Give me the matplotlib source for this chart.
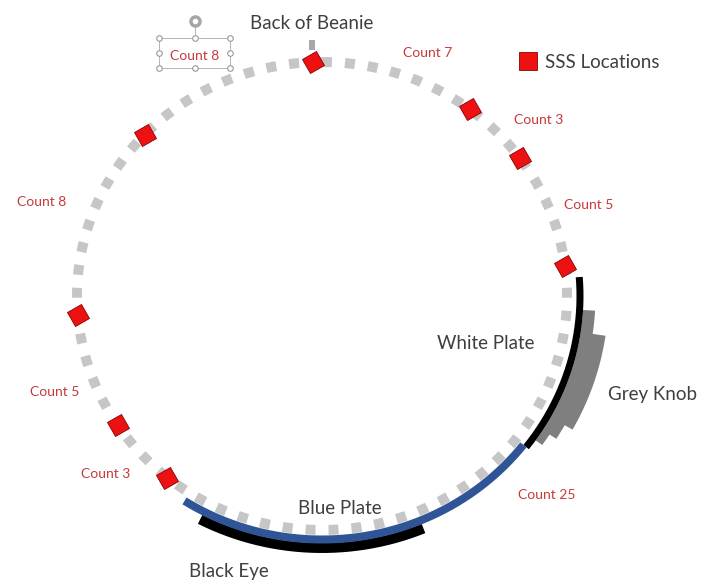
import numpy as np
import matplotlib.pyplot as plt
from matplotlib.markers import MarkerStyle
from matplotlib.transforms import Affine2D
from matplotlib.patches import Rectangle

plt.rcParams['font.family'] = ['Lato', 'DejaVu Sans']

# --- data -------------------------------------------------------------
# SSS locations around the beanie ring (angle in degrees, 0 = right, ccw)
sss_angles = [92, 52.9, 36.2, 7.4, 136.4, 184.6, 213.5, 230.9]
counts = [8, 7, 3, 5, 8, 5, 3, 25]
count_texts = [f'Count {c}' for c in counts]

# plates / parts as angle ranges on the ring
blue_plate = (237.3, 322.3)
white_plate = (-37.7, 4.4)
black_eye = (242.4, 292.7)
# grey knob steps: (start angle, end angle, thickness px)
knob_a0 = [-3.2, -8.3, -29.0, -32.4]
knob_a1 = [-8.3, -29.0, -32.4, -35.2]
knob_w = [12, 25, 16, 8]

part_names = ['Back of Beanie', 'White Plate', 'Grey Knob', 'Blue Plate', 'Black Eye']

# --- layout ------------------------------------------------------------
W, H = 711, 582
cx, cy, rx, ry = 322, 296, 245, 234
RED = '#ee1111'
LAB_RED = '#c83a3a'
DARK = '#3f3f3f'
PX = 0.72  # points per pixel at 100 dpi

count_xy = [(195, 60), (428, 57), (539, 124), (589, 209),
            (42, 206), (55, 396), (106, 478), (547, 499)]
part_xy = [(312, 29), (486, 349), (652, 400), (340, 514), (229, 577)]


def ring(t0, t1, off=0, n=300):
    t = np.radians(np.linspace(t0, t1, n))
    return cx + (rx + off) * np.cos(t), cy - (ry + off) * np.sin(t)


fig = plt.figure(figsize=(W / 100, H / 100), dpi=100)
ax = fig.add_axes([0, 0, 1, 1])
ax.set_xlim(0, W)
ax.set_ylim(H, 0)
ax.axis('off')

# dashed ring of grey squares
x, y = ring(90, 450, n=1200)
ax.plot(x, y, color='#c6c6c6', lw=10 * PX, dashes=(1.0, 1.3),
        dash_capstyle='butt', zorder=1)

# blue plate
x, y = ring(*blue_plate, off=9.5)
ax.plot(x, y, color='#2f5597', lw=8 * PX, solid_capstyle='butt', zorder=2.2)

# white plate (black arc)
x, y = ring(*white_plate, off=13)
ax.plot(x, y, color='black', lw=7 * PX, solid_capstyle='butt', zorder=2)

# black eye
x, y = ring(*black_eye, off=18)
ax.plot(x, y, color='black', lw=10 * PX, solid_capstyle='butt', zorder=2)

# grey knob (stepped)
ox, oy = [], []
for a0, a1, w in zip(knob_a0, knob_a1, knob_w):
    sx, sy = ring(a0, a1, off=16.5 + w, n=60)
    ox += list(sx)
    oy += list(sy)
ix, iy = ring(knob_a1[-1], knob_a0[0], off=16.5, n=200)
ax.fill(ox + list(ix), oy + list(iy), color='#7f7f7f', lw=0, zorder=1.5)

# SSS markers
for a in sss_angles:
    t = np.radians(a)
    m = MarkerStyle('s', transform=Affine2D().rotate_deg(30))
    ax.plot(cx + rx * np.cos(t), cy - ry * np.sin(t), marker=m, ms=15.5 * PX,
            color=RED, mec='#8b0000', mew=0.6, zorder=5)

# small pointer above back-of-beanie marker
ax.plot([312, 312], [40, 50], color='#a8a8a8', lw=6 * PX, solid_capstyle='butt', zorder=1)

# labels
for txt, (lx, ly) in zip(count_texts, count_xy):
    ax.text(lx, ly, txt, color=LAB_RED, fontsize=10, ha='center', va='baseline')
for txt, (lx, ly) in zip(part_names, part_xy):
    ax.text(lx, ly, txt, color=DARK, fontsize=13.5, ha='center', va='baseline')

# legend
ax.plot(528, 61, marker='s', ms=18 * PX, color=RED, mec='#8b0000', mew=0.6)
ax.text(545, 68, 'SSS Locations', color=DARK, fontsize=13.5, ha='left', va='baseline')

# leftover selection box around the top "Count 8"
ax.add_patch(Rectangle((159, 38), 71, 30, fill=False, ec='#b5b5b5', lw=0.7, zorder=3))
hx = [159, 194.5, 230, 159, 230, 159, 194.5, 230]
hy = [38, 38, 38, 53, 53, 68, 68, 68]
ax.plot(hx, hy, ls='none', marker='o', ms=4, mfc='white', mec='#999999', mew=0.8, zorder=4)
ax.plot([194.5, 194.5], [26, 38], color='#b5b5b5', lw=0.7, zorder=3)
ax.plot(194.5, 21, marker='o', ms=8, color='#a6a6a6', zorder=4)
ax.plot(194.5, 21, marker='o', ms=3, color='white', zorder=4)

fig.savefig('out.png', dpi=100)
